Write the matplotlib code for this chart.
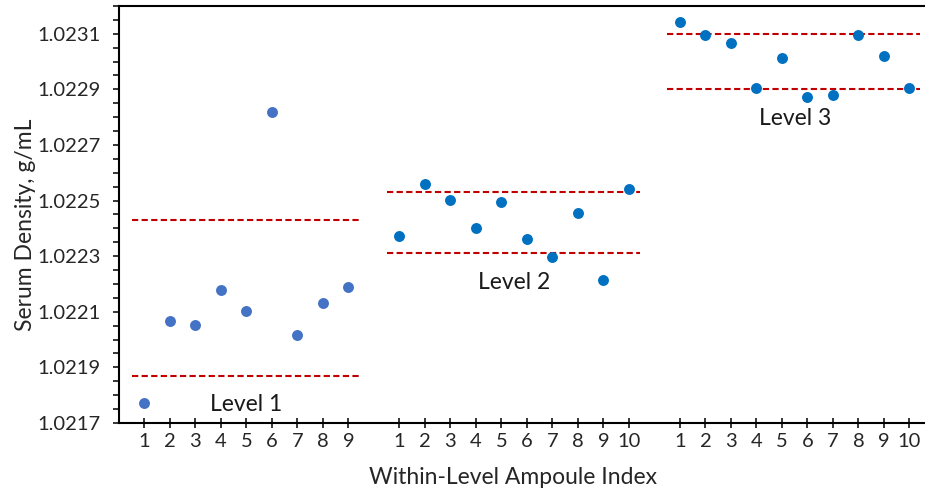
import matplotlib
matplotlib.use("Agg")
import matplotlib.pyplot as plt
import numpy as np

plt.rcParams['font.family'] = ['Lato', 'DejaVu Sans']

# serum density per ampoule, g/mL
level1 = [1.021773, 1.022066, 1.022052, 1.022178, 1.022103,
          1.022818, 1.022015, 1.022130, 1.022188]
level2 = [1.022373, 1.022561, 1.022501, 1.022403, 1.022495,
          1.022362, 1.022296, 1.022454, 1.022215, 1.022543]
level3 = [1.023141, 1.023094, 1.023068, 1.022905, 1.023013,
          1.022873, 1.022880, 1.023097, 1.023021, 1.022905]

# acceptance band (lower, upper) for each level
level1_band = [1.021870, 1.022429]
level2_band = [1.022310, 1.022530]
level3_band = [1.022900, 1.023101]

level_names = ['Level 1', 'Level 2', 'Level 3']

fig = plt.figure(figsize=(9.25, 4.92), dpi=100)
ax = fig.add_axes([119 / 925, 69 / 492, 816 / 925, 417 / 492])

levels = [level1, level2, level3]
bands = [level1_band, level2_band, level3_band]
colors = ['#4472C4', '#0070C0', '#0070C0']

# one empty category slot between levels
tick_pos, tick_lab = [], []
start = 1
starts = []
for vals in levels:
    x = np.arange(start, start + len(vals))
    starts.append(start)
    tick_pos.extend(x)
    tick_lab.extend([str(i + 1) for i in range(len(vals))])
    start += len(vals) + 1

for vals, band, c, s0 in zip(levels, bands, colors, starts):
    x = np.arange(s0, s0 + len(vals))
    ax.scatter(x, vals, s=62, color=c, zorder=3, linewidths=0)
    for yb in band:
        ax.plot([x[0] - 0.5, x[-1] + 0.42], [yb, yb], color='#C00000',
                lw=1.5, ls=(0, (3, 1.6)), zorder=2)

# level captions
txt = dict(fontsize=16.5, ha='center', va='center', color='#1a1a1a')
ax.text(starts[0] + 4.0, 1.021765, level_names[0], **txt)
ax.text(starts[1] + 4.5, 1.022204, level_names[1], **txt)
ax.text(starts[2] + 4.5, 1.022795, level_names[2], **txt)

ax.set_xlim(0, 32)
ax.set_ylim(1.0217, 1.0232)
ax.set_yticks(np.arange(1.0217, 1.02311, 0.0002))
ax.set_yticklabels([f'{v:.4f}' for v in np.arange(1.0217, 1.02311, 0.0002)])
ax.set_yticks(np.arange(1.0217, 1.02321, 0.00005), minor=True)
ax.set_xticks(tick_pos)
ax.set_xticklabels(tick_lab)

ax.tick_params(axis='y', which='both', direction='out', length=4.5, width=1.1,
               labelsize=14.5, pad=9, colors='black', labelcolor='#262626')
ax.tick_params(axis='x', which='major', direction='inout', length=7, width=1.1,
               labelsize=14.5, pad=4, colors='black', labelcolor='#262626')

for sp in ax.spines.values():
    sp.set_linewidth(1.5)
    sp.set_color('black')

ax.set_ylabel('Serum Density, g/mL', fontsize=16.5, color='#262626')
ax.yaxis.set_label_coords(-0.102, 0.475)
ax.set_xlabel('Within-Level Ampoule Index', fontsize=16.5, color='#262626')
ax.xaxis.set_label_coords(0.483, -0.105)

fig.savefig('out.png', dpi=100)
